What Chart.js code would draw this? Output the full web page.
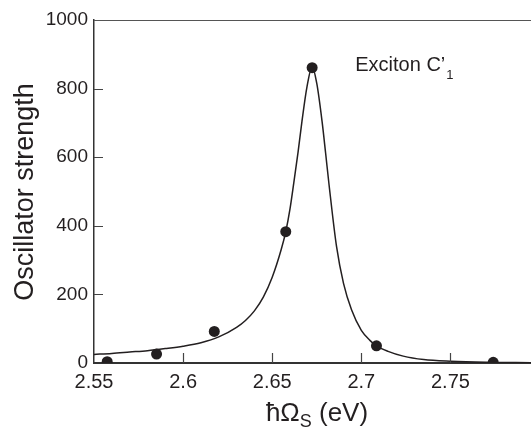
<!DOCTYPE html>
<html>
<head>
<meta charset="utf-8">
<script src="https://cdn.jsdelivr.net/npm/chart.js@4/dist/chart.umd.min.js"></script>
<style>
html,body{margin:0;padding:0;background:#fff;}
#wrap{width:531px;height:430px;position:relative;}
</style>
</head>
<body>
<div id="wrap"><canvas id="c" width="531" height="430"></canvas></div>
<script>
// Measured data points
const pointX = [2.5574, 2.5851, 2.6175, 2.6576, 2.6724, 2.7085, 2.774];
const pointY = [4, 26, 92, 383, 861, 50, 2];

// Fitted curve
const curveX = [2.55, 2.56, 2.57, 2.58, 2.59, 2.60, 2.61, 2.62, 2.63, 2.635, 2.64, 2.645, 2.65, 2.655, 2.6576, 2.66, 2.6621, 2.6645, 2.6667, 2.6695, 2.6724, 2.675, 2.678, 2.680, 2.6819, 2.6861, 2.690, 2.6945, 2.700, 2.7048, 2.7085, 2.715, 2.7235, 2.735, 2.75, 2.77, 2.7952];
const curveY = [25, 28, 32, 36, 42, 49, 59, 76, 104, 124, 152, 192, 250, 330, 383, 450, 525, 615, 705, 805, 864, 815, 703, 610, 519, 339, 232, 155, 95, 66, 50, 34, 20, 10, 5, 2, 1];

// Tick labels
const xTicks = [2.55, 2.6, 2.65, 2.7, 2.75];
const xTickLabels = ["2.55", "2.6", "2.65", "2.7", "2.75"];
const yTicks = [0, 200, 400, 600, 800, 1000];

const xMin = 2.55, xMax = 2.7952, yMin = 0, yMax = 1000;

const FONT = "'Liberation Sans', Arial, Helvetica, sans-serif";
const INK = '#231f20';

const overlay = {
  id: 'overlay',
  afterDraw(chart) {
    const ctx = chart.ctx;
    const a = chart.chartArea;
    const xs = chart.scales.x, ys = chart.scales.y;
    ctx.save();
    // top frame line
    ctx.strokeStyle = '#555';
    ctx.lineWidth = 1.2;
    ctx.beginPath();
    ctx.moveTo(a.left, a.top + 0.5);
    ctx.lineTo(a.right, a.top + 0.5);
    ctx.stroke();
    // inward ticks
    ctx.strokeStyle = '#444';
    ctx.lineWidth = 1.2;
    ctx.beginPath();
    yTicks.forEach(v => {
      if (v === yMin || v === yMax) return;
      const py = Math.round(ys.getPixelForValue(v)) + 0.5;
      ctx.moveTo(a.left, py);
      ctx.lineTo(a.left + 9, py);
    });
    xTicks.forEach(v => {
      if (v === xMin) return;
      const px = Math.round(xs.getPixelForValue(v)) + 0.5;
      ctx.moveTo(px, a.bottom);
      ctx.lineTo(px, a.bottom - 10);
    });
    ctx.stroke();

    ctx.fillStyle = INK;
    // x title with subscript
    const big = '26px ' + FONT, sub = '18px ' + FONT;
    const p1 = 'ħΩ', p2 = 'S', p3 = ' (eV)';
    ctx.font = big; const w1 = ctx.measureText(p1).width, w3 = ctx.measureText(p3).width;
    ctx.font = sub; const w2 = ctx.measureText(p2).width;
    const total = w1 + w2 + w3;
    let x0 = 317 - total / 2;
    const base = 421;
    ctx.textBaseline = 'alphabetic';
    ctx.textAlign = 'left';
    ctx.font = big; ctx.fillText(p1, x0, base);
    ctx.font = sub; ctx.fillText(p2, x0 + w1, base + 6);
    ctx.font = big; ctx.fillText(p3, x0 + w1 + w2, base);

    // y title
    ctx.save();
    ctx.translate(33, 192);
    ctx.rotate(-Math.PI / 2);
    ctx.font = '27px ' + FONT;
    ctx.textAlign = 'center';
    ctx.textBaseline = 'alphabetic';
    ctx.fillText('Oscillator strength', 0, 0);
    ctx.restore();

    // annotation
    const lx = xs.getPixelForValue(2.6966), ly = ys.getPixelForValue(851);
    ctx.font = '20px ' + FONT;
    ctx.textAlign = 'left';
    const t = 'Exciton C’';
    ctx.fillText(t, lx, ly);
    const tw = ctx.measureText(t).width;
    ctx.font = '13px ' + FONT;
    ctx.fillText('1', lx + tw + 1, ly + 8);
    ctx.restore();
  }
};

new Chart(document.getElementById('c'), {
  type: 'scatter',
  data: {
    datasets: [
      {
        label: 'points',
        data: pointX.map((x, i) => ({x, y: pointY[i]})),
        pointRadius: 5.5,
        pointHoverRadius: 5.5,
        pointBackgroundColor: INK,
        pointBorderColor: INK,
        borderWidth: 0,
        showLine: false,
        order: 0
      },
      {
        label: 'fit',
        data: curveX.map((x, i) => ({x, y: curveY[i]})),
        showLine: true,
        pointRadius: 0,
        borderColor: INK,
        borderWidth: 1.5,
        cubicInterpolationMode: 'monotone',
        fill: false,
        order: 1
      }
    ]
  },
  options: {
    responsive: false,
    animation: false,
    devicePixelRatio: 1,
    layout: { autoPadding: false, padding: { top: 20, right: 0, left: 0, bottom: 0 } },
    plugins: { legend: { display: false }, tooltip: { enabled: false } },
    scales: {
      x: {
        type: 'linear',
        min: xMin, max: xMax,
        afterBuildTicks: s => { s.ticks = xTicks.map(v => ({value: v})); },
        afterFit: s => { s.height = 67; },
        grid: { display: false, drawTicks: false },
        border: { display: true, color: '#333', width: 2 },
        ticks: {
          autoSkip: false, maxRotation: 0, padding: 7,
          color: INK, font: { family: FONT, size: 20 },
          callback: (v) => { const i = xTicks.indexOf(v); return i >= 0 ? xTickLabels[i] : ''; }
        }
      },
      y: {
        min: yMin, max: yMax,
        afterBuildTicks: s => { s.ticks = yTicks.map(v => ({value: v})); },
        afterFit: s => { s.width = 94; },
        grid: { display: false, drawTicks: false },
        border: { display: true, color: '#333', width: 1.5 },
        ticks: {
          padding: 6,
          color: INK, font: { family: FONT, size: 19 },
          callback: v => String(v)
        }
      }
    }
  },
  plugins: [overlay]
});
</script>
</body>
</html>
